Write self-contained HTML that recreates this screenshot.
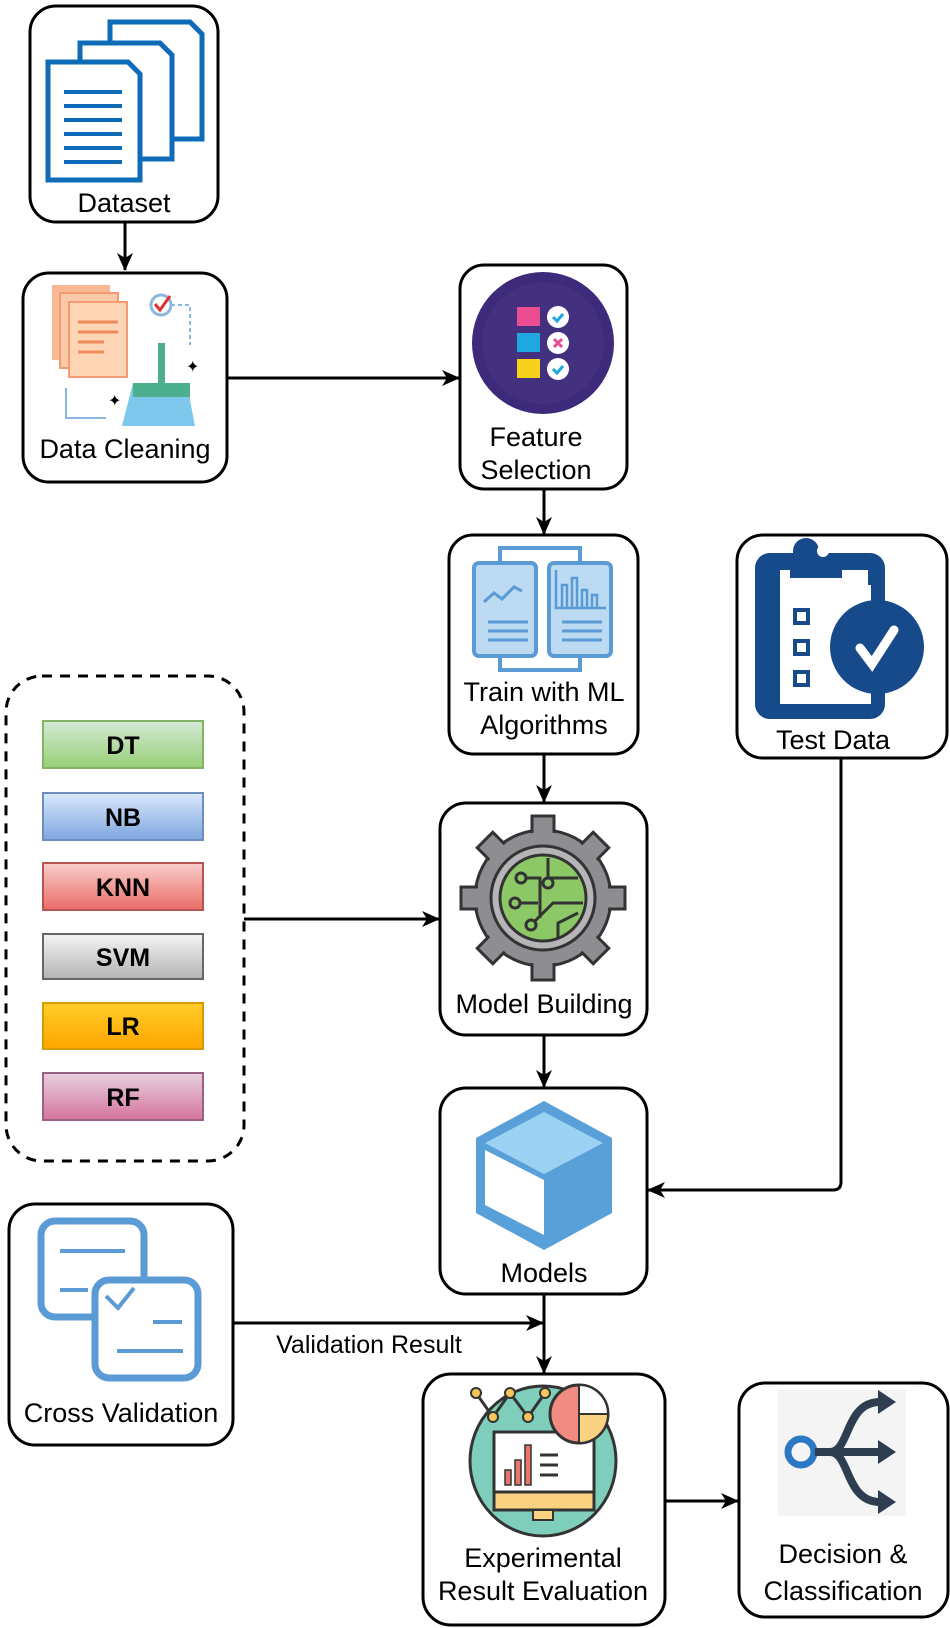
<!DOCTYPE html>
<html><head><meta charset="utf-8"><style>
html,body{margin:0;padding:0;background:#fff;width:950px;height:1628px;overflow:hidden}
svg{display:block}
text{font-family:"Liberation Sans",Arial,sans-serif;fill:#000}
.l{font-size:27px;text-anchor:middle}
.b{font-size:25px;font-weight:bold;text-anchor:middle}
.box{fill:#fff;stroke:#000;stroke-width:3}
.ln{stroke:#000;stroke-width:3;fill:none}
</style></head><body>
<svg width="950" height="1628" viewBox="0 0 950 1628" xmlns="http://www.w3.org/2000/svg">
<defs>
<marker id="ah" markerWidth="18" markerHeight="18" refX="17" refY="9" orient="auto" markerUnits="userSpaceOnUse" viewBox="0 0 18 18">
<path d="M0,1 L18,9 L0,17 L5,9 z" fill="#000"/></marker>
<linearGradient id="gG" x1="0" y1="0" x2="0" y2="1"><stop offset="0" stop-color="#d5e8d4"/><stop offset="1" stop-color="#97d077"/></linearGradient>
<linearGradient id="gB" x1="0" y1="0" x2="0" y2="1"><stop offset="0" stop-color="#dae8fc"/><stop offset="1" stop-color="#7ea6e0"/></linearGradient>
<linearGradient id="gR" x1="0" y1="0" x2="0" y2="1"><stop offset="0" stop-color="#f8cecc"/><stop offset="1" stop-color="#ea6b66"/></linearGradient>
<linearGradient id="gS" x1="0" y1="0" x2="0" y2="1"><stop offset="0" stop-color="#f5f5f5"/><stop offset="1" stop-color="#b3b3b3"/></linearGradient>
<linearGradient id="gY" x1="0" y1="0" x2="0" y2="1"><stop offset="0" stop-color="#ffcd28"/><stop offset="1" stop-color="#ffa500"/></linearGradient>
<linearGradient id="gP" x1="0" y1="0" x2="0" y2="1"><stop offset="0" stop-color="#e6d0de"/><stop offset="1" stop-color="#d5739d"/></linearGradient>
</defs>

<!-- connectors -->
<path class="ln" d="M125,222 V270" marker-end="url(#ah)"/>
<path class="ln" d="M227,378 H459" marker-end="url(#ah)"/>
<path class="ln" d="M544,489 V534" marker-end="url(#ah)"/>
<path class="ln" d="M544,754 V802" marker-end="url(#ah)"/>
<path class="ln" d="M244,919 H439" marker-end="url(#ah)"/>
<path class="ln" d="M544,1035 V1087" marker-end="url(#ah)"/>
<path class="ln" d="M841,758 V1182 Q841,1190 833,1190 H648" marker-end="url(#ah)"/>
<path class="ln" d="M544,1294 V1373" marker-end="url(#ah)"/>
<path class="ln" d="M233,1323 H543" marker-end="url(#ah)"/>
<path class="ln" d="M665,1501 H738" marker-end="url(#ah)"/>
<text x="369" y="1353" style="font-size:25px;text-anchor:middle">Validation Result</text>

<!-- Dataset -->
<rect class="box" x="30" y="6" width="188" height="216" rx="26"/>
<g fill="#fff" stroke="#0e6bb8" stroke-width="5">
<path d="M110,22 H190 L202,34 V139 H110 z"/>
<path d="M80,43 H160 L172,55 V159 H80 z"/>
<path d="M48,62 H128 L140,74 V180 H48 z"/>
</g>
<g stroke="#0e6bb8" stroke-width="4"><path d="M64,92H122M64,106H122M64,120H122M64,134H122M64,148H122M64,162H122"/></g>
<text class="l" x="124" y="212">Dataset</text>

<!-- Data Cleaning -->
<rect class="box" x="23" y="273" width="204" height="209" rx="26"/>
<rect x="52" y="285" width="58" height="75" fill="#f9b894"/>
<rect x="60" y="293" width="58" height="75" fill="#fbc9a7" stroke="#f59a72" stroke-width="2"/>
<rect x="69" y="302" width="58" height="75" fill="#fdd5b5" stroke="#f59a72" stroke-width="2"/>
<g stroke="#f08a5d" stroke-width="3"><path d="M78,322H118M78,332H118M78,342H104M78,352H104"/></g>
<circle cx="161" cy="305" r="10" fill="none" stroke="#8ab6e0" stroke-width="3"/>
<path d="M155,304l5,6l10,-14" stroke="#d33" stroke-width="3" fill="none"/>
<path d="M171,305h19v40" stroke="#8ab6e0" stroke-width="2" fill="none" stroke-dasharray="4 3"/>
<path d="M66,388v30h40" stroke="#8ab6e0" stroke-width="2" fill="none"/>
<rect x="158" y="343" width="7" height="40" fill="#4caf8d"/>
<path d="M133,383H190V400L195,426H122z" fill="#7dc8ec"/>
<rect x="133" y="383" width="57" height="14" fill="#4caf8d"/>
<text x="186" y="372" fill="#f26b3a" style="font-size:16px">✦</text>
<text x="108" y="406" fill="#f26b3a" style="font-size:16px">✦</text>
<text class="l" x="125" y="458">Data Cleaning</text>

<!-- Feature Selection -->
<rect class="box" x="460" y="265" width="167" height="224" rx="24"/>
<circle cx="543" cy="343" r="71" fill="#3d2a7a"/>
<circle cx="543" cy="343" r="61" fill="#43307f"/>
<rect x="517" y="307" width="23" height="19" fill="#e94d8f"/>
<rect x="517" y="333" width="23" height="19" fill="#1ea8e0"/>
<rect x="517" y="359" width="23" height="19" fill="#f7d21a"/>
<circle cx="558" cy="317" r="11" fill="#fff"/><circle cx="558" cy="343" r="11" fill="#fff"/><circle cx="558" cy="369" r="11" fill="#fff"/>
<path d="M553,317l4,4l6,-7M553,369l4,4l6,-7" stroke="#1ea8e0" stroke-width="3" fill="none"/>
<path d="M554,339l8,8M562,339l-8,8" stroke="#e94d8f" stroke-width="3"/>
<text class="l" x="536" y="446">Feature</text>
<text class="l" x="536" y="479">Selection</text>

<!-- Train -->
<rect class="box" x="449" y="535" width="189" height="219" rx="24"/>
<path d="M500,561V548H580V561M500,657V670H580V657" stroke="#5b9bd5" stroke-width="4" fill="none"/>
<rect x="474" y="563" width="62" height="93" rx="5" fill="#bcdaf2" stroke="#5b9bd5" stroke-width="4"/>
<rect x="549" y="563" width="62" height="93" rx="5" fill="#bcdaf2" stroke="#5b9bd5" stroke-width="4"/>
<path d="M484,602l10,-9l8,6l12,-12l8,4" stroke="#5b9bd5" stroke-width="3" fill="none"/>
<path d="M556,570V608H606M562,608V585H567V608M572,608V578H577V608M582,608V590H587V608M592,608V595H597V608" stroke="#5b9bd5" stroke-width="2.5" fill="none"/>
<g stroke="#5b9bd5" stroke-width="3"><path d="M488,622H528M488,631H528M488,640H528M562,622H602M562,631H602M562,640H602"/></g>
<text class="l" x="544" y="701">Train with ML</text>
<text class="l" x="544" y="734">Algorithms</text>

<!-- Test Data -->
<rect class="box" x="737" y="535" width="210" height="223" rx="26"/>
<path d="M770,560H793V551a13,13 0 0 1 26,0V560H878V585H868V570H842V578H790V570H780V704H878V712H762V560z" fill="#174a8b"/>
<rect x="762" y="560" width="116" height="152" rx="8" fill="none" stroke="#174a8b" stroke-width="14"/>
<circle cx="823" cy="551" r="6" fill="#fff"/>
<g fill="none" stroke="#174a8b" stroke-width="4"><rect x="795" y="610" width="13" height="13"/><rect x="795" y="641" width="13" height="13"/><rect x="795" y="672" width="13" height="13"/></g>
<circle cx="877" cy="647" r="47" fill="#174a8b"/>
<path d="M860,648l12,16l22,-34" stroke="#fff" stroke-width="9" fill="none" stroke-linecap="round"/>
<text class="l" x="833" y="749">Test Data</text>

<!-- Dashed group -->
<rect x="6" y="676" width="238" height="485" rx="36" fill="none" stroke="#000" stroke-width="3" stroke-dasharray="10 8"/>
<g stroke-width="2">
<rect x="43" y="721" width="160" height="47" fill="url(#gG)" stroke="#82b366"/>
<rect x="43" y="793" width="160" height="47" fill="url(#gB)" stroke="#6c8ebf"/>
<rect x="43" y="863" width="160" height="47" fill="url(#gR)" stroke="#b85450"/>
<rect x="43" y="934" width="160" height="45" fill="url(#gS)" stroke="#666"/>
<rect x="43" y="1003" width="160" height="46" fill="url(#gY)" stroke="#d79b00"/>
<rect x="43" y="1073" width="160" height="47" fill="url(#gP)" stroke="#996185"/>
</g>
<text class="b" x="123" y="754">DT</text>
<text class="b" x="123" y="826">NB</text>
<text class="b" x="123" y="896">KNN</text>
<text class="b" x="123" y="966">SVM</text>
<text class="b" x="123" y="1035">LR</text>
<text class="b" x="123" y="1106">RF</text>

<!-- Model Building -->
<rect class="box" x="440" y="803" width="207" height="232" rx="26"/>
<g transform="translate(543,898)">
<g fill="#8d8d92" stroke="#333" stroke-width="3">
<circle r="68"/>
<rect x="-11" y="-82" width="22" height="20"/><rect x="-11" y="62" width="22" height="20"/>
<rect x="-82" y="-11" width="20" height="22"/><rect x="62" y="-11" width="20" height="22"/>
<rect x="-11" y="-82" width="22" height="20" transform="rotate(45)"/><rect x="-11" y="-82" width="22" height="20" transform="rotate(-45)"/>
<rect x="-11" y="-82" width="22" height="20" transform="rotate(135)"/><rect x="-11" y="-82" width="22" height="20" transform="rotate(-135)"/>
</g>
<circle r="66" fill="#8d8d92"/>
<circle r="52" fill="#b5b5b8" stroke="#333" stroke-width="3"/>
<circle r="43" fill="#8cc866" stroke="#333" stroke-width="3"/>
<g stroke="#333" stroke-width="3" fill="none"><path d="M-18,-20h15v40M5,-40v20h30M-25,5h20M-10,25l20,-20h30M15,40v-15l20,-10"/></g>
<g fill="#8cc866" stroke="#333" stroke-width="3"><circle cx="-22" cy="-20" r="5"/><circle cx="-28" cy="5" r="5"/><circle cx="5" cy="-15" r="5"/><circle cx="-12" cy="27" r="5"/></g>
</g>
<text class="l" x="544" y="1013">Model Building</text>

<!-- Models -->
<rect class="box" x="440" y="1088" width="207" height="206" rx="26"/>
<path d="M544,1101L612,1138V1213L544,1250L476,1213V1138z" fill="#5aa0d8"/>
<path d="M544,1112L603,1143L544,1174L485,1143z" fill="#9bd1f3"/>
<path d="M485,1150L544,1180V1235L485,1205z" fill="#fff"/>
<text class="l" x="544" y="1282">Models</text>

<!-- Cross Validation -->
<rect class="box" x="9" y="1204" width="224" height="241" rx="26"/>
<rect x="41" y="1221" width="103" height="96" rx="14" fill="none" stroke="#5b9bd5" stroke-width="7"/>
<rect x="95" y="1280" width="103" height="98" rx="14" fill="#fff" stroke="#5b9bd5" stroke-width="7"/>
<path d="M60,1251H125M60,1290H88M153,1322H182M117,1351H183" stroke="#5b9bd5" stroke-width="4"/>
<path d="M106,1296l12,12l16,-20" stroke="#5b9bd5" stroke-width="4" fill="none"/>
<text class="l" x="121" y="1422">Cross Validation</text>

<!-- Experimental -->
<rect class="box" x="423" y="1374" width="242" height="251" rx="28"/>
<ellipse cx="543" cy="1461" rx="73" ry="75" fill="#7fcdbb" stroke="#333" stroke-width="3"/>
<path d="M476,1393l17,24l17,-24l18,24l17,-24" stroke="#333" stroke-width="3" fill="none"/>
<g fill="#f5c45c" stroke="#333" stroke-width="2"><circle cx="476" cy="1393" r="5"/><circle cx="493" cy="1417" r="5"/><circle cx="510" cy="1393" r="5"/><circle cx="528" cy="1417" r="5"/><circle cx="545" cy="1393" r="5"/></g>
<rect x="494" y="1432" width="100" height="78" fill="#fff" stroke="#333" stroke-width="3"/>
<rect x="494" y="1492" width="100" height="18" fill="#fbd281" stroke="#333" stroke-width="3"/>
<rect x="533" y="1510" width="20" height="10" fill="#fbd281" stroke="#333" stroke-width="2"/>
<g fill="#e9746b" stroke="#333" stroke-width="1.5"><rect x="505" y="1470" width="6" height="15"/><rect x="515" y="1460" width="6" height="25"/><rect x="525" y="1445" width="6" height="40"/></g>
<path d="M540,1455h18M540,1465h18M540,1475h18" stroke="#333" stroke-width="3"/>
<circle cx="579" cy="1414" r="29" fill="#f28b82" stroke="#333" stroke-width="3"/>
<path d="M579,1414V1385A29,29 0 0 1 608,1414z" fill="#fff" stroke="#333" stroke-width="2"/>
<path d="M579,1414H608A29,29 0 0 1 579,1443z" fill="#fbd281" stroke="#333" stroke-width="2"/>
<text class="l" x="543" y="1567">Experimental</text>
<text class="l" x="543" y="1600">Result Evaluation</text>

<!-- Decision -->
<rect class="box" x="739" y="1383" width="209" height="234" rx="26"/>
<rect x="778" y="1390" width="128" height="126" fill="#f4f4f4"/>
<circle cx="801" cy="1452" r="13" fill="none" stroke="#2b79c2" stroke-width="7"/>
<path d="M815,1452H890M830,1452C850,1452 845,1402 880,1402M830,1452C850,1452 845,1502 880,1502" stroke="#2e3d4f" stroke-width="8" fill="none"/>
<path d="M878,1390l18,12l-18,12zM878,1440l18,12l-18,12zM878,1490l18,12l-18,12z" fill="#2e3d4f"/>
<text class="l" x="843" y="1563">Decision &amp;</text>
<text class="l" x="843" y="1600">Classification</text>
</svg>
</body></html>
